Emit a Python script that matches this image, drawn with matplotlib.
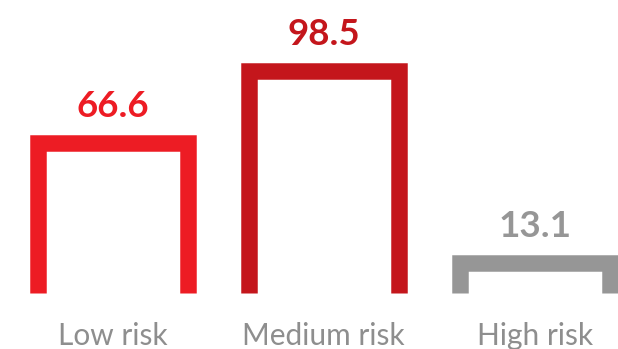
import matplotlib
matplotlib.use("Agg")
import matplotlib.pyplot as plt
import matplotlib.transforms as mtransforms

categories = ["Low risk", "Medium risk", "High risk"]
values = [66.6, 98.5, 13.1]
value_labels = ["66.6", "98.5", "13.1"]
colors = ["#ED1C24", "#C4161C", "#969696"]
label_color = "#8E8E8E"

plt.rcParams['font.family'] = ['Lato', 'DejaVu Sans']

W, H, DPI = 618, 349, 100
fig = plt.figure(figsize=(W / DPI, H / DPI), dpi=DPI)
ax = fig.add_axes([0, 0, 1, 1])
ax.set_axis_off()

px_per_unit_y = 2.255
px_per_cat = 211.2
x0_px = 112.6
y0_px = 56  # from bottom
ax.set_xlim(-x0_px / px_per_cat, (W - x0_px) / px_per_cat)
ax.set_ylim(-y0_px / px_per_unit_y, (H - y0_px) / px_per_unit_y)

half_w = 75 / px_per_cat
lw_pt = 16.5 * 72 / DPI

for i, (v, c, lab, cat) in enumerate(zip(values, colors, value_labels, categories)):
    ax.plot([i - half_w, i - half_w, i + half_w, i + half_w], [0, v, v, 0],
            color=c, linewidth=lw_pt, solid_joinstyle='miter',
            solid_capstyle='butt')
    ax.annotate(lab, xy=(i, v), xytext=(0, 26 * 72 / DPI),
                textcoords='offset points', ha='center', va='baseline',
                fontsize=26.5, fontweight='bold', color=c)
    trans = mtransforms.blended_transform_factory(ax.transData, ax.transAxes)
    ax.text(i, 4 / H, cat, transform=trans, ha='center', va='baseline',
            fontsize=21.5, color=label_color)

fig.savefig("out.png", dpi=DPI)
